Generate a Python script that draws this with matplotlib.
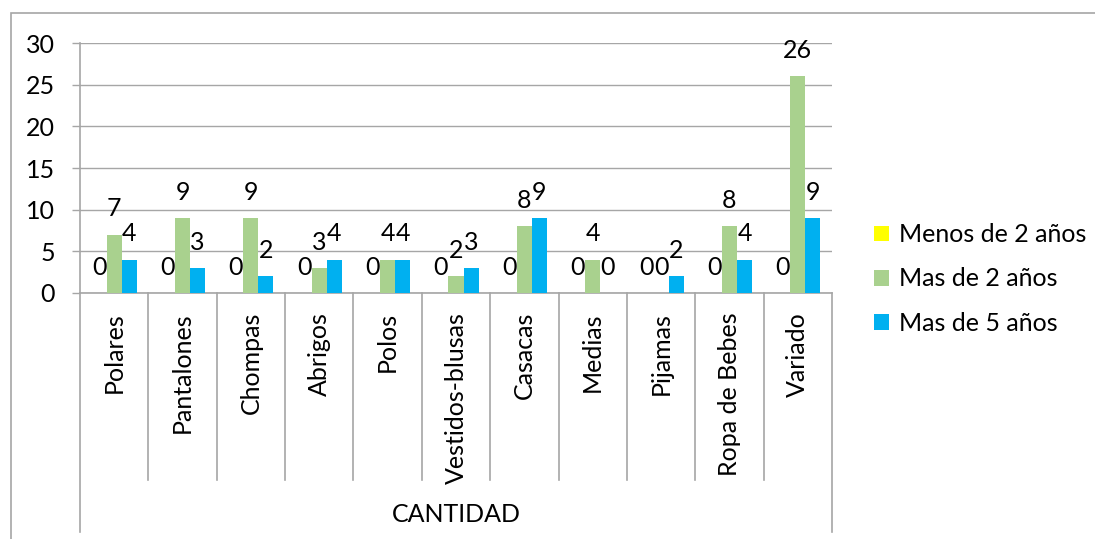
import numpy as np
import matplotlib
matplotlib.use('Agg')
import matplotlib.pyplot as plt
from matplotlib.patches import Rectangle

plt.rcParams['font.family'] = ['Lato', 'DejaVu Sans']

# datos
categorias = ['Polares', 'Pantalones', 'Chompas', 'Abrigos', 'Polos', 'Vestidos-blusas',
              'Casacas', 'Medias', 'Pijamas', 'Ropa de Bebes', 'Variado']
menos_2 = [0, 0, 0, 0, 0, 0, 0, 0, 0, 0, 0]
mas_2 = [7, 9, 9, 3, 4, 2, 8, 4, 0, 8, 26]
mas_5 = [4, 3, 2, 4, 4, 3, 9, 0, 2, 4, 9]
series = ['Menos de 2 años', 'Mas de 2 años', 'Mas de 5 años']
colores = ['#ffff00', '#a9d18e', '#00b0f0']
y_ticks = [0, 5, 10, 15, 20, 25, 30]

fs = 18
gris = '#a6a6a6'

fig = plt.figure(figsize=(10.95, 5.39), dpi=100)
ax = fig.add_axes([80/1095, 1-293/539, 752/1095, 250/539])

x = np.arange(len(categorias))
w = 0.22
for k, (vals, col) in enumerate(zip([menos_2, mas_2, mas_5], colores)):
    pos = x + (k-1)*w
    ax.bar(pos, vals, width=w, color=col, label=series[k], zorder=3)
    for px, v in zip(pos, vals):
        ax.annotate(str(v), (px, v), xytext=(0, 18.5), textcoords='offset points',
                    ha='center', va='center', fontsize=fs, zorder=4)

ax.set_xlim(-0.5, len(categorias)-0.5)
ax.set_ylim(0, 30)
ax.set_yticks(y_ticks)
ax.tick_params(axis='y', length=6, width=1, color=gris, labelsize=fs, pad=12)
ax.set_xticks([])
ax.grid(axis='y', color=gris, lw=1, zorder=0)
for s in ['top', 'right']:
    ax.spines[s].set_visible(False)
ax.spines['left'].set_color(gris)
ax.spines['bottom'].set_color(gris)
ax.spines['left'].set_linewidth(1.2)
ax.spines['bottom'].set_linewidth(1.2)

# separadores de categorias bajo el eje
tr = ax.get_xaxis_transform()
for i in range(len(categorias)+1):
    b = i - 0.5
    fondo = -0.956 if i in (0, len(categorias)) else -0.748
    ax.plot([b, b], [0, fondo], transform=tr, color=gris, lw=1.2, clip_on=False)
for i, c in enumerate(categorias):
    ax.text(i, -0.076, c, transform=tr, rotation=90, ha='center', va='top', fontsize=fs)
ax.text((len(categorias)-1)/2, -0.888, 'CANTIDAD', transform=tr, ha='center', va='center', fontsize=fs)

ax.legend(loc='center left', bbox_to_anchor=(874/1095, 1-279/539), bbox_transform=fig.transFigure,
          frameon=False, fontsize=fs, handlelength=0.6, handleheight=0.6, handletextpad=0.4,
          labelspacing=0.85, borderaxespad=0, borderpad=0)

fig.patches.append(Rectangle((11/1095, -0.1), 1.2, 1.1-13/539, transform=fig.transFigure,
                             fill=False, edgecolor=gris, lw=1.2))

fig.savefig('out.png', dpi=100)
